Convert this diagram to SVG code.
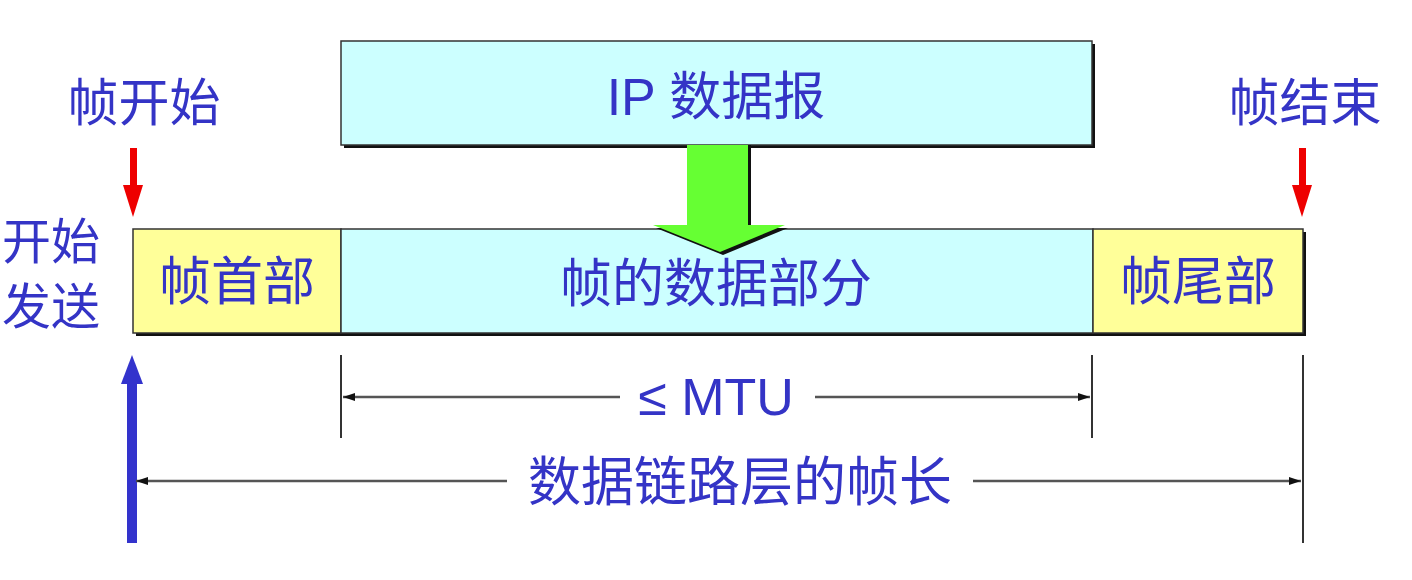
<svg xmlns="http://www.w3.org/2000/svg" width="1412" height="580" viewBox="0 0 1412 580">
<style>
.t{font-family:"Liberation Sans","Noto Sans CJK SC",sans-serif;fill:#3434c6;}
.box{stroke:#333;stroke-width:1.5;}
.sh{fill:#111;}
.dim{stroke:#555;stroke-width:2.5;fill:none;}
.tick{stroke:#333;stroke-width:2;}
</style>
<defs>
<marker id="ah" viewBox="0 0 12 8" refX="12" refY="4" markerWidth="12" markerHeight="8" markerUnits="userSpaceOnUse" orient="auto-start-reverse">
<path d="M0,0 L12,4 L0,8 z" fill="#111"/>
</marker>
</defs>
<rect width="1412" height="580" fill="#fff"/>

<g id="ip-datagram">
<rect class="sh" x="344" y="44" width="751" height="104"/>
<rect class="box" x="341" y="41" width="751" height="104" fill="#ccffff"/>
<text class="t" x="716" y="115" font-size="52" text-anchor="middle">IP 数据报</text>
</g>

<g id="frame">
<rect class="sh" x="136" y="232" width="1170" height="104"/>
<g id="frame-header">
<rect class="box" x="133" y="229" width="208" height="104" fill="#ffff99"/>
<text class="t" x="237" y="300" font-size="52" text-anchor="middle">帧首部</text>
</g>
<g id="frame-data">
<rect class="box" x="341" y="229" width="752" height="104" fill="#ccffff"/>
<text class="t" x="716" y="302" font-size="52" text-anchor="middle">帧的数据部分</text>
</g>
<g id="frame-trailer">
<rect class="box" x="1093" y="229" width="210" height="104" fill="#ffff99"/>
<text class="t" x="1198" y="300" font-size="52" text-anchor="middle">帧尾部</text>
</g>
</g>

<g id="encap-arrow">
<polygon points="690,145 751,145 751,228 788,228 723,255 656,228 690,228" fill="#111"/>
<polygon points="687,145 748,145 748,225 785,225 720,252 653,225 687,225" fill="#66ff33"/>
</g>

<g id="frame-start">
<text class="t" x="144" y="121" font-size="51" text-anchor="middle">帧开始</text>
<rect x="130" y="148" width="7" height="38" fill="#ee0000"/>
<polygon points="123,185 143,185 133,217" fill="#ee0000"/>
</g>

<g id="frame-end">
<text class="t" x="1305" y="121" font-size="51" text-anchor="middle">帧结束</text>
<rect x="1299" y="148" width="7" height="38" fill="#ee0000"/>
<polygon points="1292,185 1312,185 1302,217" fill="#ee0000"/>
</g>

<g id="start-send">
<text class="t" x="51" y="259" font-size="49" text-anchor="middle">开始</text>
<text class="t" x="51" y="324" font-size="49" text-anchor="middle">发送</text>
<rect x="127" y="380" width="10" height="163" fill="#3333cc"/>
<polygon points="132,355 143,384 121,384" fill="#3333cc"/>
</g>

<g id="connectors">
<line class="tick" x1="341" y1="355" x2="341" y2="438"/>
<line class="tick" x1="1092" y1="355" x2="1092" y2="438"/>
<line class="tick" x1="1303" y1="355" x2="1303" y2="543"/>
<line class="dim" x1="620" y1="397" x2="343" y2="397" marker-end="url(#ah)"/>
<line class="dim" x1="815" y1="397" x2="1090" y2="397" marker-end="url(#ah)"/>
<line class="dim" x1="507" y1="481" x2="136" y2="481" marker-end="url(#ah)"/>
<line class="dim" x1="973" y1="481" x2="1301" y2="481" marker-end="url(#ah)"/>
</g>

<g id="labels">
<text class="t" x="716" y="415" font-size="52" text-anchor="middle">≤ MTU</text>
<text class="t" x="740" y="501" font-size="53" text-anchor="middle">数据链路层的帧长</text>
</g>
</svg>
